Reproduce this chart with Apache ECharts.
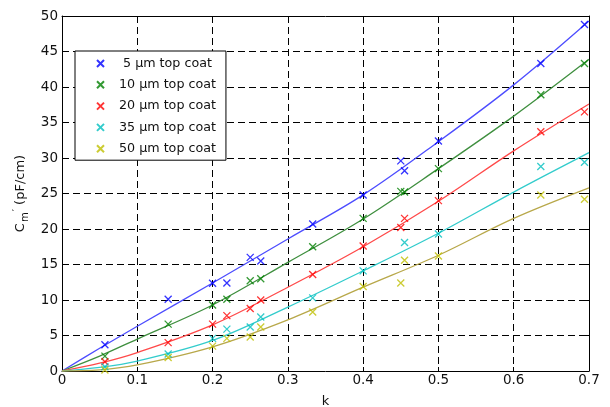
<!DOCTYPE html>
<html>
<head>
<meta charset="utf-8">
<script src="https://cdn.jsdelivr.net/npm/echarts@6/dist/echarts.min.js"></script>
<style>
html,body{margin:0;padding:0;background:#fff;}
#chart{width:610px;height:407px;}
</style>
</head>
<body>
<div id="chart"></div>
<script>
// ---- data ----
const seriesNames = ['5 µm top coat', '10 µm top coat', '20 µm top coat', '35 µm top coat', '50 µm top coat'];
const legendLabels = [' 5 µm top coat', '10 µm top coat', '20 µm top coat', '35 µm top coat', '50 µm top coat'];

// measured points (k, Cm')
const kMeas5  = [0.057, 0.141, 0.2, 0.219, 0.25, 0.264, 0.333, 0.4, 0.45, 0.455, 0.5, 0.636, 0.694];
const cMeas5  = [3.7, 10.1, 12.35, 12.4, 16.0, 15.5, 20.7, 24.8, 29.6, 28.2, 32.4, 43.3, 48.8];
const kMeas10 = [0.057, 0.141, 0.2, 0.219, 0.25, 0.264, 0.333, 0.4, 0.45, 0.455, 0.5, 0.636, 0.694];
const cMeas10 = [2.1, 6.6, 9.3, 10.1, 12.7, 13.0, 17.5, 21.5, 25.3, 25.2, 28.5, 38.9, 43.3];
const kMeas20 = [0.057, 0.141, 0.2, 0.219, 0.25, 0.264, 0.333, 0.4, 0.45, 0.455, 0.5, 0.636, 0.694];
const cMeas20 = [1.3, 4.0, 6.6, 7.8, 8.8, 10.0, 13.6, 17.6, 20.2, 21.5, 24.0, 33.7, 36.5];
const kMeas35 = [0.057, 0.141, 0.2, 0.219, 0.25, 0.264, 0.333, 0.4, 0.455, 0.5, 0.636, 0.694];
const cMeas35 = [0.6, 2.4, 4.6, 5.9, 6.2, 7.6, 10.3, 14.1, 18.1, 19.3, 28.8, 29.4];
const kMeas50 = [0.057, 0.141, 0.2, 0.219, 0.25, 0.264, 0.333, 0.4, 0.45, 0.455, 0.5, 0.636, 0.694];
const cMeas50 = [0.15, 1.9, 3.5, 4.6, 4.8, 6.2, 8.3, 11.9, 12.4, 15.6, 16.2, 24.8, 24.2];

// fitted curves
const kFit    = [0, 0.05, 0.1, 0.2, 0.3, 0.4, 0.5, 0.6, 0.7];
const cFit5   = [0, 3.2, 6.3, 12.4, 18.6, 24.8, 32.3, 40.3, 49.3];
const cFit10  = [0, 2.1, 4.5, 9.3, 15.3, 21.4, 28.5, 35.9, 43.9];
const cFit20  = [0, 1.1, 2.6, 6.5, 11.8, 17.5, 23.9, 31.0, 37.6];
const cFit35  = [0, 0.5, 1.4, 4.3, 9.0, 14.1, 19.4, 25.2, 30.75];
const cFit50  = [0, 0.15, 0.85, 3.4, 7.2, 11.8, 16.3, 21.5, 25.8];

const xTicks = [0, 0.1, 0.2, 0.3, 0.4, 0.5, 0.6, 0.7];
const yTicks = [0, 5, 10, 15, 20, 25, 30, 35, 40, 45, 50];

// ---- styling ----
const markerColors = ['#0000ff', '#008000', '#ff0000', '#00bfbf', '#bfbf00'];
const lineColors   = ['#4d4dff', '#3f8f3f', '#ff4a4a', '#33cccc', '#b8a84a'];
const xPath = 'path://M0,0L10,10M10,0L0,10';

const meas = [[kMeas5,cMeas5],[kMeas10,cMeas10],[kMeas20,cMeas20],[kMeas35,cMeas35],[kMeas50,cMeas50]];
const fits = [cFit5, cFit10, cFit20, cFit35, cFit50];
const zip = (a,b) => a.map((v,i)=>[v,b[i]]);

const series = [];
fits.forEach((f,i)=>{
  series.push({
    type:'line', name:'fit'+i, data: zip(kFit,f), smooth:0.35, showSymbol:false, symbol:'none',
    lineStyle:{color:lineColors[i], width:1.3}, silent:true, z:2
  });
});
meas.forEach((m,i)=>{
  series.push({
    type:'scatter', name:seriesNames[i], data: zip(m[0],m[1]), symbol:xPath, symbolSize:7,
    itemStyle:{color:markerColors[i], borderColor:markerColors[i], borderWidth:1.3}, z:3
  });
});

const fontFam = '"DejaVu Sans", "Liberation Sans", Arial, sans-serif';
const chart = echarts.init(document.getElementById('chart'), null, {renderer:'canvas'});
const splitStyle = {show:true, lineStyle:{color:'#000', type:[7,4], width:1}};
chart.setOption({
  animation:false,
  backgroundColor:'#fff',
  textStyle:{fontFamily:fontFam},
  grid:{left:62, right:21, top:16, bottom:36, containLabel:false, outerBoundsMode:'none'},
  legend:{
    orient:'vertical', left:75, top:51,
    data: seriesNames.map((n)=>({name:n, icon:xPath})),
    formatter: (n)=> '{t|' + legendLabels[seriesNames.indexOf(n)] + '}',
    itemWidth:7, itemHeight:7, itemGap:8.3,
    padding:[6, 10, 5, 21],
    backgroundColor:'#fff', borderColor:'#000', borderWidth:1,
    textStyle:{fontSize:12.7, color:'#111', fontFamily:fontFam,
      rich:{t:{fontSize:12.7, color:'#111', fontFamily:fontFam, padding:[0,0,0,10]}}}
  },
  xAxis:[{
    type:'value', min:0, max:0.7, interval:0.1, position:'bottom',
    name:'k', nameLocation:'middle', nameGap:24,
    nameTextStyle:{fontSize:13, color:'#111', fontFamily:fontFam},
    axisLine:{show:true, onZero:false, lineStyle:{color:'#000', width:1}},
    axisTick:{show:true, inside:true, length:4, lineStyle:{color:'#000'}},
    axisLabel:{fontSize:13.5, color:'#111', margin:2, fontFamily:fontFam, formatter:(v)=> xTicks.includes(Math.round(v*10)/10) ? String(Math.round(v*10)/10) : ''},
    splitLine:splitStyle
  },{
    type:'value', min:0, max:0.7, interval:0.1, position:'top',
    axisLine:{show:true, onZero:false, lineStyle:{color:'#000', width:1}},
    axisTick:{show:true, inside:true, length:4, lineStyle:{color:'#000'}},
    axisLabel:{show:false}, splitLine:{show:false}
  }],
  yAxis:[{
    type:'value', min:0, max:50, interval:5, position:'left',
    name:'{c|C}{m|m}{p|\u2032}{t| (pF/cm)}', nameLocation:'middle', nameGap:30, nameRotate:90,
    nameTextStyle:{color:'#111', rich:{
      c:{fontSize:13, color:'#111', fontFamily:fontFam},
      m:{fontSize:10, color:'#111', fontFamily:fontFam, verticalAlign:'bottom', padding:[8,0,0,1]},
      p:{fontSize:10, color:'#111', fontFamily:fontFam, verticalAlign:'top', padding:[0,0,6,1]},
      t:{fontSize:13, color:'#111', fontFamily:fontFam}
    }},
    axisLine:{show:true, onZero:false, lineStyle:{color:'#000', width:1}},
    axisTick:{show:true, inside:true, length:4, lineStyle:{color:'#000'}},
    axisLabel:{fontSize:13.5, color:'#111', margin:4, fontFamily:fontFam, formatter:(v)=> yTicks.includes(v) ? String(v) : ''},
    splitLine:splitStyle
  },{
    type:'value', min:0, max:50, interval:5, position:'right',
    axisLine:{show:true, onZero:false, lineStyle:{color:'#000', width:1}},
    axisTick:{show:true, inside:true, length:4, lineStyle:{color:'#000'}},
    axisLabel:{show:false}, splitLine:{show:false}
  }],
  series: series
});
</script>
</body>
</html>
